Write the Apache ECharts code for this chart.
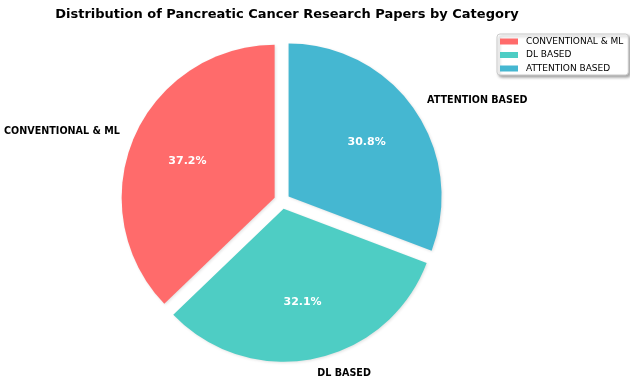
<!DOCTYPE html>
<html>
<head>
<meta charset="utf-8">
<script src="https://cdn.jsdelivr.net/npm/echarts@6/dist/echarts.min.js"></script>
<style>
  html, body { margin: 0; padding: 0; background: #fff; }
  #chart { width: 630px; height: 379px; }
</style>
</head>
<body>
<div id="chart"></div>
<script>
const categories = ['CONVENTIONAL & ML', 'DL BASED', 'ATTENTION BASED'];
const paperCounts = [29, 25, 24];
const sliceColors = ['#FF6B6B', '#4ECDC4', '#45B7D1'];

const FONT = 'DejaVu Sans';
const CENTER = [282, 201];
const R = 153;
const EXPLODE = 8;

const total = paperCounts.reduce((a, b) => a + b, 0);

// 饼图数据
function pieData(visible) {
  return categories.map((name, i) => ({
    name: name,
    value: paperCounts[i],
    selected: visible,
    itemStyle: { color: visible ? sliceColors[i] : 'rgba(0,0,0,0)' }
  }));
}

const base = {
  type: 'pie',
  center: CENTER,
  startAngle: 90,
  clockwise: false,
  avoidLabelOverlap: false,
  animation: false,
  emphasis: { disabled: true }
};

const chart = echarts.init(document.getElementById('chart'));
chart.setOption({
  backgroundColor: '#fff',
  title: {
    text: 'Distribution of Pancreatic Cancer Research Papers by Category',
    left: 282,
    textAlign: 'center',
    top: 3,
    textStyle: { fontFamily: FONT, fontSize: 13, fontWeight: 'bold', color: '#000' }
  },
  legend: {
    orient: 'vertical',
    left: 497,
    top: 34,
    icon: 'rect',
    itemWidth: 18,
    itemHeight: 6,
    itemGap: 4.5,
    padding: [3, 5, 2, 3],
    borderColor: '#cccccc',
    borderWidth: 1,
    borderRadius: 3,
    backgroundColor: '#fff',
    shadowBlur: 3,
    shadowColor: 'rgba(0,0,0,0.35)',
    shadowOffsetX: 2,
    shadowOffsetY: 2,
    textStyle: { fontFamily: FONT, fontSize: 9, color: '#000', padding: [0, 0, 0, 3] },
    data: categories
  },
  series: [
    Object.assign({}, base, {
      name: 'slices',
      radius: R,
      selectedMode: 'multiple',
      selectedOffset: EXPLODE,
      itemStyle: {
        borderWidth: 0,
        shadowBlur: 3,
        shadowColor: 'rgba(0,0,0,0.12)',
        shadowOffsetX: 1,
        shadowOffsetY: 1
      },
      select: { itemStyle: { borderWidth: 0 } },
      label: { show: false },
      labelLine: { show: false },
      data: pieData(true)
    }),
    Object.assign({}, base, {
      name: 'pct',
      silent: true,
      radius: 2 * (0.6 * R + EXPLODE),
      itemStyle: { borderWidth: 0 },
      label: {
        show: true,
        position: 'inside',
        formatter: p => (p.value / total * 100).toFixed(1) + '%',
        fontFamily: FONT,
        fontSize: 11,
        fontWeight: 'bold',
        color: '#fff'
      },
      labelLine: { show: false },
      data: pieData(false)
    }),
    Object.assign({}, base, {
      name: 'names',
      silent: true,
      radius: R,
      itemStyle: { borderWidth: 0 },
      label: {
        show: true,
        position: 'outside',
        alignTo: 'none',
        distanceToLabelLine: 0,
        formatter: '{b}',
        fontFamily: FONT,
        fontSize: 9.6,
        fontWeight: 'bold',
        color: '#000'
      },
      labelLine: { show: false, length: 1.1 * R + EXPLODE - R, length2: 0 },
      data: pieData(false)
    })
  ]
});
</script>
</body>
</html>
